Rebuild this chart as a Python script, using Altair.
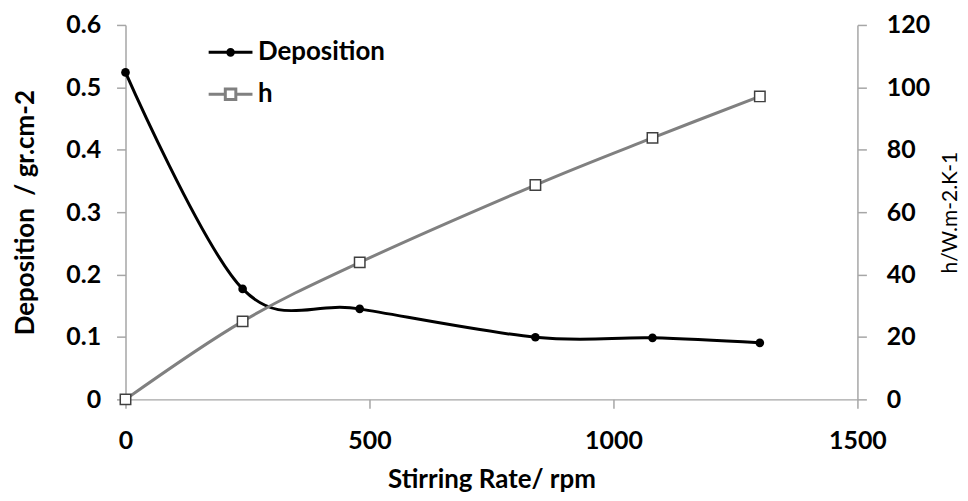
import altair as alt
import pandas as pd

# ---- data ----
rpm = [0, 240, 480, 840, 1080, 1300]
deposition = [0.524, 0.177, 0.145, 0.0995, 0.0986, 0.0906]
h_values = [0, 25.0, 43.9, 68.7, 83.8, 97.1]

series_names = ["Deposition", "h"]
x_ticks = [0, 500, 1000, 1500]
left_ticks = [0, 0.1, 0.2, 0.3, 0.4, 0.5, 0.6]
right_ticks = [0, 20, 40, 60, 80, 100, 120]

dep_df = pd.DataFrame({"rpm": rpm, "value": deposition, "series": "Deposition"})
h_df = pd.DataFrame({"rpm": rpm, "value": h_values, "series": "h"})

FONT = "Lato"
AXIS_GRAY = "#a6a6a6"
H_GRAY = "#808080"

# legend symbols: line with marker
dep_sym = "M-1,0H1M-0.13,0A0.13,0.13,0,1,0,0.13,0A0.13,0.13,0,1,0,-0.13,0Z"
h_sym = "M-1,0H-0.24M0.24,0H1M-0.24,-0.24H0.24V0.24H-0.24Z"

x_enc = alt.X(
    "rpm:Q",
    scale=alt.Scale(domain=[0, 1500], nice=False, zero=False),
    axis=alt.Axis(
        values=x_ticks, format="d", title="Stirring Rate/ rpm",
        titleX=367.5, titleY=88, titleBaseline="alphabetic", titleAlign="center",
        titleFontSize=26,
        labelPadding=20,
    ),
)

y_left = alt.Y(
    "value:Q",
    scale=alt.Scale(domain=[0, 0.6], nice=False),
    axis=alt.Axis(
        orient="left", values=left_ticks, format=".1~f",
        title="Deposition\u00a0 / gr.cm-2",
        titleX=-100, titleY=188, titleAngle=270,
        titleBaseline="middle", titleAlign="center",
        labelPadding=16, labelBaseline="middle",
    ),
)

y_right = alt.Y(
    "value:Q",
    scale=alt.Scale(domain=[0, 120], nice=False),
    axis=alt.Axis(
        orient="right", values=right_ticks, format="d",
        title="h/W.m-2.K-1", titleFontWeight="normal", titleFontSize=21,
        titleX=93, titleY=188, titleAngle=270,
        titleBaseline="middle", titleAlign="center",
        labelPadding=20, labelBaseline="middle",
    ),
)

base_dep = alt.Chart(dep_df)
dep_line = base_dep.mark_line(color="black", strokeWidth=3, interpolate="cardinal").encode(
    x=x_enc, y=y_left
)
dep_pts = base_dep.mark_point(filled=True, color="black", size=75, opacity=1).encode(
    x="rpm:Q", y="value:Q"
)
legend_layer = base_dep.transform_filter("datum.rpm < 0").mark_point(opacity=1).encode(
    x="rpm:Q",
    y="value:Q",
    shape=alt.Shape("series:N", scale=alt.Scale(domain=series_names, range=[dep_sym, h_sym]),
                    legend=alt.Legend(orient="none", legendX=82, legendY=4, title=None)),
    fill=alt.Fill("series:N", scale=alt.Scale(domain=series_names, range=["black", "white"]),
                  legend=alt.Legend(orient="none", legendX=82, legendY=4, title=None)),
    stroke=alt.Stroke("series:N", scale=alt.Scale(domain=series_names, range=["black", H_GRAY]),
                      legend=alt.Legend(orient="none", legendX=82, legendY=4, title=None)),
)
dep_layer = alt.layer(dep_line, dep_pts, legend_layer)

base_h = alt.Chart(h_df)
h_line = base_h.mark_line(color=H_GRAY, strokeWidth=3, interpolate="cardinal").encode(
    x=x_enc, y=y_right
)
h_pts = base_h.mark_point(shape="square", filled=False, fill="white", stroke="#404040",
                          strokeWidth=1.5, size=110, opacity=1).encode(
    x="rpm:Q", y="value:Q"
)
h_layer = alt.layer(h_line, h_pts)

chart = (
    alt.layer(dep_layer, h_layer)
    .resolve_scale(y="independent")
    .properties(
        width=735, height=376,
        autosize=alt.AutoSizeParams(type="none"),
        padding={"left": 118, "top": 16, "right": 103, "bottom": 93},
        background="white",
    )
    .configure_view(stroke=None)
    .configure_axis(
        grid=False,
        domainColor=AXIS_GRAY, domainWidth=1.5,
        tickColor=AXIS_GRAY, tickWidth=1.5, tickSize=9,
        labelFont=FONT, labelFontSize=25, labelFontWeight="bold", labelColor="black",
        titleFont=FONT, titleFontSize=26, titleFontWeight="bold", titleColor="black",
        labelOverlap=False, labelFlush=False,
    )
    .configure_legend(
        symbolSize=1936, symbolStrokeWidth=3, symbolOpacity=1,
        labelFont=FONT, labelFontSize=26, labelFontWeight="bold", labelColor="black",
        labelOffset=4, rowPadding=5, padding=0, labelLimit=300,
    )
)

chart.save("out.html", embed_options={"renderer": "svg", "actions": False})
